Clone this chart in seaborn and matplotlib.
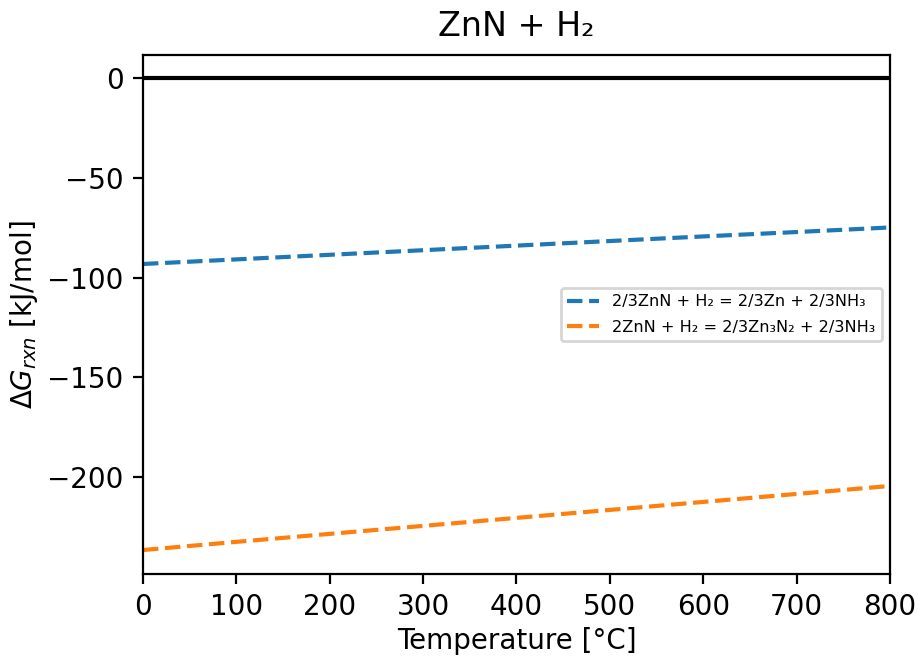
import numpy as np
import pandas as pd
import matplotlib
matplotlib.use("Agg")
import matplotlib.pyplot as plt
import seaborn as sns

# temperatures (degC) and reaction free energies (kJ/mol)
temps = [0, 100, 200, 300, 400, 500, 600, 700, 800]
dg_zn = [-93.2, -90.9, -88.6, -86.3, -84.0, -81.7, -79.4, -77.2, -74.9]
dg_zn3n2 = [-236.5, -232.4, -228.4, -224.4, -220.4, -216.4, -212.4, -208.4, -204.4]
zero_line = [0, 0, 0, 0, 0, 0, 0, 0, 0]
labels = ["2/3ZnN + H₂ = 2/3Zn + 2/3NH₃", "2ZnN + H₂ = 2/3Zn₃N₂ + 2/3NH₃"]

df = pd.DataFrame({"T": temps * 2,
                   "dG": dg_zn + dg_zn3n2,
                   "rxn": [labels[0]] * len(temps) + [labels[1]] * len(temps)})

fig = plt.figure(figsize=(919 / 200, 656 / 200), dpi=200)
ax = fig.add_axes([0.1556, 0.125, 0.8128, 0.7912])

sns.lineplot(x=temps, y=zero_line, color="k", lw=1.5, ax=ax)
sns.lineplot(data=df, x="T", y="dG", hue="rxn", palette=["#1f77b4", "#ff7f0e"],
             linestyle="--", lw=1.5, ax=ax)

ax.set_xlim(0, 800)
ax.set_ylim(-248.5, 11.5)
ax.set_title("ZnN + H₂", pad=7)
ax.set_xlabel("Temperature [°C]", labelpad=2)
ax.set_ylabel(r"$\Delta G_{rxn}$ [kJ/mol]", labelpad=2.5)
ax.legend(loc="center right", fontsize=5.8, labelspacing=0.65, title=None)

fig.savefig("out.png", dpi=200)
